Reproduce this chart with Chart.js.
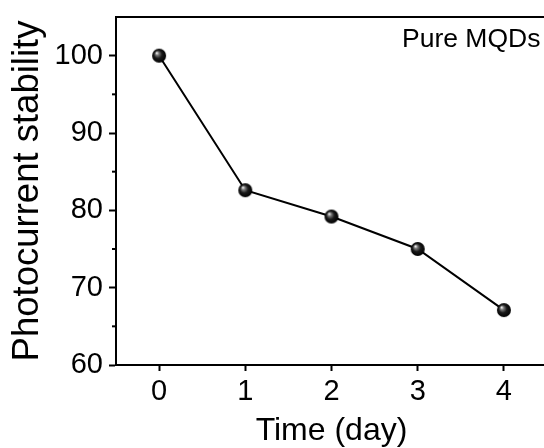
<!DOCTYPE html>
<html><head><meta charset="utf-8">
<script src="https://cdn.jsdelivr.net/npm/chart.js@4/dist/chart.umd.min.js"></script>
<style>html,body{margin:0;padding:0;background:#fff;overflow:hidden}#wrap{width:550px;height:448px}</style>
</head><body><div id="wrap"><canvas id="c" width="550" height="448"></canvas></div>
<script>
const days = [0, 1, 2, 3, 4];
const stability = [100, 82.6, 79.2, 75.0, 67.1];
const xTicks = [0, 1, 2, 3, 4];
const yTicks = [60, 70, 80, 90, 100];
const yMinorTicks = [65, 75, 85, 95];
const annotation = 'Pure MQDs';
const xTitle = 'Time (day)';
const yTitle = 'Photocurrent stability';

const FONT = '"Liberation Sans", Arial, sans-serif';

function sphere(r) {
  const s = Math.ceil(r * 2) + 2;
  const c = document.createElement('canvas'); c.width = s; c.height = s;
  const g = c.getContext('2d');
  const cx = s / 2, cy = s / 2;
  const grad = g.createRadialGradient(cx - r * 0.35, cy - r * 0.4, r * 0.05, cx, cy, r);
  grad.addColorStop(0, '#f4f4f4');
  grad.addColorStop(0.22, '#7a7a7a');
  grad.addColorStop(0.55, '#1a1a1a');
  grad.addColorStop(1, '#000');
  g.fillStyle = grad; g.beginPath(); g.arc(cx, cy, r, 0, Math.PI * 2); g.fill();
  return c;
}

const frame = {
  id: 'frame',
  afterDraw(chart) {
    const {ctx, chartArea: a, scales: {y}} = chart;
    ctx.save();
    ctx.strokeStyle = '#000'; ctx.lineWidth = 2;
    ctx.beginPath(); ctx.moveTo(a.left - 1, a.top); ctx.lineTo(a.right + 2, a.top); ctx.stroke();
    yMinorTicks.forEach(v => {
      const py = y.getPixelForValue(v);
      ctx.beginPath(); ctx.moveTo(a.left - 4, py); ctx.lineTo(a.left, py); ctx.stroke();
    });
    ctx.fillStyle = '#000'; ctx.font = '26.5px ' + FONT;
    ctx.textAlign = 'left'; ctx.textBaseline = 'alphabetic';
    ctx.fillText(annotation, a.right - 145, a.top + 30);
    ctx.restore();
  }
};

new Chart(document.getElementById('c'), {
  type: 'line',
  data: {
    datasets: [{
      data: days.map((d, i) => ({x: d, y: stability[i]})),
      borderColor: '#000', borderWidth: 2,
      pointStyle: sphere(7), pointRadius: 7, pointHoverRadius: 7,
      tension: 0, fill: false, clip: false
    }]
  },
  options: {
    responsive: false, animation: false,
    layout: {autoPadding: false, padding: {top: 17, right: 3, left: 0, bottom: 0}},
    plugins: {legend: {display: false}, tooltip: {enabled: false}},
    scales: {
      x: {
        type: 'linear', min: -0.5, max: 4.5,
        afterBuildTicks: s => { s.ticks = xTicks.map(v => ({value: v})); },
        afterFit: s => { s.height = 83; s.paddingLeft = 0; s.paddingRight = 0; },
        grid: {display: true, drawOnChartArea: false, drawTicks: true, tickLength: 6, tickWidth: 2, tickColor: '#000'},
        border: {display: true, color: '#000', width: 2},
        ticks: {color: '#000', font: {family: FONT, size: 29}, padding: 4, maxRotation: 0, autoSkip: false},
        title: {display: true, text: xTitle, color: '#000', font: {family: FONT, size: 32}, padding: {top: 0, bottom: -2}}
      },
      y: {
        type: 'linear', min: 60, max: 105,
        afterBuildTicks: s => { s.ticks = yTicks.map(v => ({value: v})); },
        afterFit: s => { s.width = 116; s.paddingTop = 0; },
        grid: {display: true, drawOnChartArea: false, drawTicks: true, tickLength: 7, tickWidth: 2, tickColor: '#000'},
        border: {display: true, color: '#000', width: 2},
        ticks: {color: '#000', font: {family: FONT, size: 29, lineHeight: 1.0}, padding: 6},
        title: {display: true, text: yTitle, color: '#000', font: {family: FONT, size: 36.5}, padding: {top: 6, bottom: 0}}
      }
    }
  },
  plugins: [frame]
});
</script>
</body></html>
